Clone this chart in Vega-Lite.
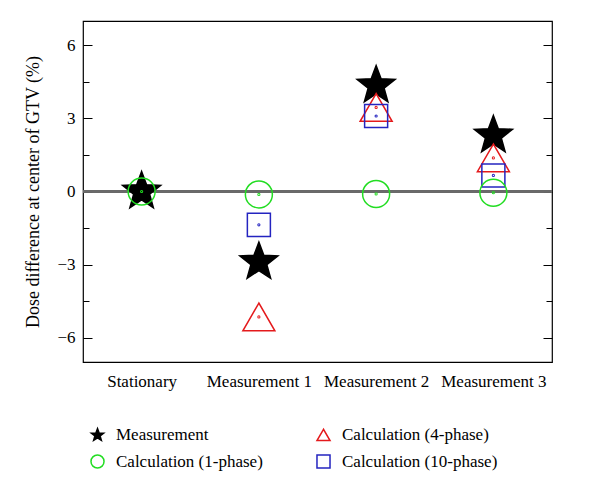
{
  "$schema": "https://vega.github.io/schema/vega-lite/v6.json",
  "width": 469,
  "height": 341,
  "autosize": "none",
  "padding": {"left": 83, "top": 21, "right": 48, "bottom": 133},
  "background": "white",
  "config": {
    "view": {"stroke": "black", "strokeWidth": 1.2},
    "font": "Liberation Serif",
    "axis": {"labelFont": "Liberation Serif", "titleFont": "Liberation Serif", "labelColor": "black", "titleColor": "black"},
    "legend": {"labelFont": "Liberation Serif", "titleFont": "Liberation Serif", "labelFontSize": 17, "labelColor": "black", "labelLimit": 400}
  },
  "data": {
    "values": [
      {"cat": "Stationary", "series": "Measurement", "value": 0},
      {"cat": "Measurement 1", "series": "Measurement", "value": -2.9},
      {"cat": "Measurement 2", "series": "Measurement", "value": 4.35},
      {"cat": "Measurement 3", "series": "Measurement", "value": 2.3},
      {"cat": "Measurement 1", "series": "Calculation (4-phase)", "value": -5.15},
      {"cat": "Measurement 2", "series": "Calculation (4-phase)", "value": 3.45},
      {"cat": "Measurement 3", "series": "Calculation (4-phase)", "value": 1.38},
      {"cat": "Measurement 1", "series": "Calculation (10-phase)", "value": -1.37},
      {"cat": "Measurement 2", "series": "Calculation (10-phase)", "value": 3.1},
      {"cat": "Measurement 3", "series": "Calculation (10-phase)", "value": 0.66},
      {"cat": "Stationary", "series": "Calculation (1-phase)", "value": 0},
      {"cat": "Measurement 1", "series": "Calculation (1-phase)", "value": -0.12},
      {"cat": "Measurement 2", "series": "Calculation (1-phase)", "value": -0.1},
      {"cat": "Measurement 3", "series": "Calculation (1-phase)", "value": -0.05}
    ]
  },
  "resolve": {"axis": {"y": "independent"}},
  "layer": [
    {
      "mark": {"type": "rule", "stroke": "#6a6a6a", "color": "#6a6a6a", "strokeWidth": 1.3},
      "encoding": {
        "y": {"datum": 0, "type": "quantitative", "scale": {"domain": [-7, 7], "nice": false, "zero": false}, "axis": null}
      }
    },
    {
      "layer": [
        {"transform": [{"filter": "datum.series == 'Measurement'"}], "mark": {"type": "point", "filled": true, "strokeWidth": 1.5, "opacity": 1, "size": 1600}},
        {"transform": [{"filter": "datum.series == 'Calculation (4-phase)'"}], "mark": {"type": "point", "filled": true, "strokeWidth": 1.5, "opacity": 1, "size": 1024}},
        {"transform": [{"filter": "datum.series == 'Calculation (10-phase)'"}], "mark": {"type": "point", "filled": true, "strokeWidth": 1.5, "opacity": 1, "size": 530}},
        {"transform": [{"filter": "datum.series == 'Calculation (1-phase)'"}], "mark": {"type": "point", "filled": true, "strokeWidth": 1.5, "opacity": 1, "size": 729}},
        {"mark": {"type": "point", "filled": false, "shape": "circle", "size": 1, "strokeWidth": 2.2, "opacity": 1}, "encoding": {"fill": null, "shape": null}}
      ],
      "encoding": {
        "x": {
          "field": "cat", "type": "nominal", "sort": null,
          "scale": {"type": "point", "padding": 0.5, "domain": ["Stationary", "Measurement 1", "Measurement 2", "Measurement 3"]},
          "axis": {"title": null, "ticks": false, "domain": false, "labelAngle": 0, "labelFontSize": 17, "labelPadding": 11}
        },
        "y": {
          "field": "value", "type": "quantitative",
          "scale": {"domain": [-7, 7], "nice": false, "zero": false},
          "axis": {
            "title": "Dose difference at center of GTV (%)",
            "titleFontSize": 18, "titleFontWeight": "normal", "titlePadding": 14,
            "values": [-6, -4.5, -3, -1.5, 0, 1.5, 3, 4.5, 6],
            "labelExpr": "datum.value % 3 == 0 ? datum.label : ''",
            "labelFontSize": 17, "labelPadding": 17,
            "domain": false, "grid": false,
            "tickColor": "black", "tickWidth": 1,
            "tickSize": {"condition": {"test": "datum.value % 3 == 0", "value": -9}, "value": -6}
          }
        },
        "shape": {
          "field": "series", "type": "nominal",
          "scale": {"domain": ["Measurement", "Calculation (4-phase)", "Calculation (1-phase)", "Calculation (10-phase)"], "range": ["M0,-1L0.247,-0.34L0.951,-0.309L0.399,0.13L0.588,0.809L0,0.42L-0.588,0.809L-0.399,0.13L-0.951,-0.309L-0.247,-0.34Z", "triangle-up", "circle", "square"]},
          "legend": {
            "title": null, "orient": "none", "legendX": 6, "legendY": 405, "direction": "horizontal", "columns": 2,
            "columnPadding": 50, "rowPadding": 7, "symbolSize": 170, "symbolStrokeWidth": 1.5,
            "labelFontSize": 17, "labelFont": "Liberation Serif", "labelColor": "black", "labelOffset": 10, "padding": 0
          }
        },
        "stroke": {
          "field": "series", "type": "nominal",
          "scale": {"domain": ["Measurement", "Calculation (4-phase)", "Calculation (1-phase)", "Calculation (10-phase)"], "range": ["black", "#e41a1c", "#22dd22", "#2424c0"]}
        },
        "fill": {
          "field": "series", "type": "nominal",
          "scale": {"domain": ["Measurement", "Calculation (4-phase)", "Calculation (1-phase)", "Calculation (10-phase)"], "range": ["black", "transparent", "transparent", "transparent"]}
        }
      }
    },
    {
      "mark": {"type": "point", "opacity": 0, "size": 1},
      "encoding": {
        "x": {"field": "cat", "type": "nominal", "sort": null, "scale": {"type": "point", "padding": 0.5, "domain": ["Stationary", "Measurement 1", "Measurement 2", "Measurement 3"]}},
        "y": {
          "field": "value", "type": "quantitative",
          "scale": {"domain": [-7, 7], "nice": false, "zero": false},
          "axis": {
            "orient": "right", "title": null, "labels": false, "domain": false, "grid": false,
            "values": [-6, -4.5, -3, -1.5, 0, 1.5, 3, 4.5, 6],
            "tickColor": "black", "tickWidth": 1,
            "tickSize": {"condition": {"test": "datum.value % 3 == 0", "value": -9}, "value": -6}
          }
        }
      }
    }
  ]
}
